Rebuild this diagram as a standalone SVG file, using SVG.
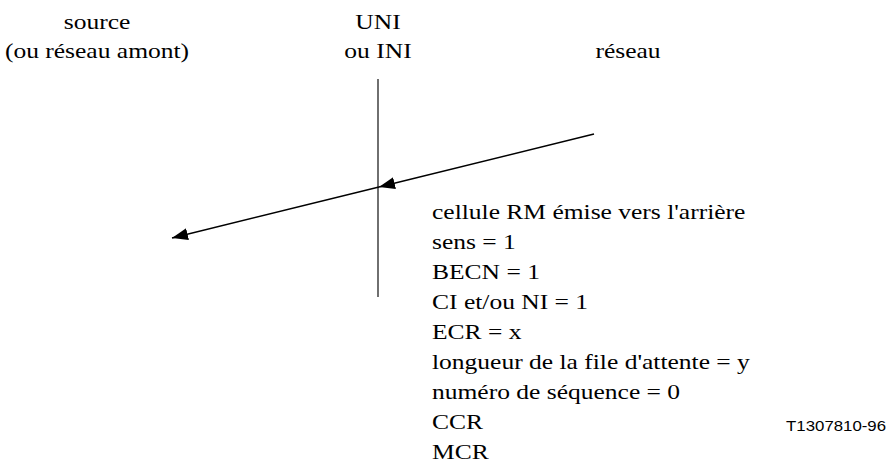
<svg xmlns="http://www.w3.org/2000/svg" width="887" height="468" viewBox="0 0 887 468">
  <style>
    .lbl { font-family: "Liberation Serif", "Times New Roman", serif; font-size: 22px; fill: #000; }
    .mid { text-anchor: middle; }
    .ref { font-family: "Liberation Sans", Arial, sans-serif; font-size: 14px; fill: #000; }
    .wire { stroke: #000; stroke-width: 1.4; fill: none; }
    .iface { stroke: #333; stroke-width: 1.4; fill: none; }
  </style>
  <defs>
    <marker id="head" markerUnits="userSpaceOnUse" markerWidth="18" markerHeight="14" refX="16" refY="6" orient="auto">
      <path d="M0,0 L16,6 L0,12 Z" fill="#000"/>
    </marker>
  </defs>

  <!-- source side -->
  <g id="source">
    <g transform="translate(97,0) scale(1.16,1)">
      <text class="lbl mid" x="0" y="29">source</text>
      <text class="lbl mid" x="0" y="58">(ou réseau amont)</text>
    </g>
  </g>

  <!-- interface UNI / INI -->
  <g id="interface">
    <g transform="translate(378,0) scale(1.16,1)">
      <text class="lbl mid" x="0" y="29">UNI</text>
      <text class="lbl mid" x="0" y="58">ou INI</text>
    </g>
    <line class="iface" x1="378" y1="79" x2="378" y2="297"/>
  </g>

  <!-- network side -->
  <g id="reseau">
    <g transform="translate(628,0) scale(1.16,1)">
      <text class="lbl mid" x="0" y="58">réseau</text>
    </g>
  </g>

  <!-- backward RM cell contents -->
  <g id="rm-cell">
    <g transform="translate(432,0) scale(1.16,1)">
      <text class="lbl" x="0" y="219">cellule RM émise vers l'arrière</text>
      <text class="lbl" x="0" y="249">sens = 1</text>
      <text class="lbl" x="0" y="279">BECN = 1</text>
      <text class="lbl" x="0" y="309">CI et/ou NI = 1</text>
      <text class="lbl" x="0" y="339">ECR = x</text>
      <text class="lbl" x="0" y="369">longueur de la file d'attente = y</text>
      <text class="lbl" x="0" y="399">numéro de séquence = 0</text>
      <text class="lbl" x="0" y="429">CCR</text>
      <text class="lbl" x="0" y="459">MCR</text>
    </g>
  </g>

  <g transform="translate(886,431) scale(1.2,1)">
    <text class="ref" x="0" y="0" text-anchor="end">T1307810-96</text>
  </g>

  <!-- RM cell path: network to interface, then interface to source -->
  <g id="connectors">
    <line class="wire" x1="594" y1="134" x2="379" y2="187" marker-end="url(#head)"/>
    <line class="wire" x1="379" y1="187" x2="172" y2="238" marker-end="url(#head)"/>
  </g>
</svg>
